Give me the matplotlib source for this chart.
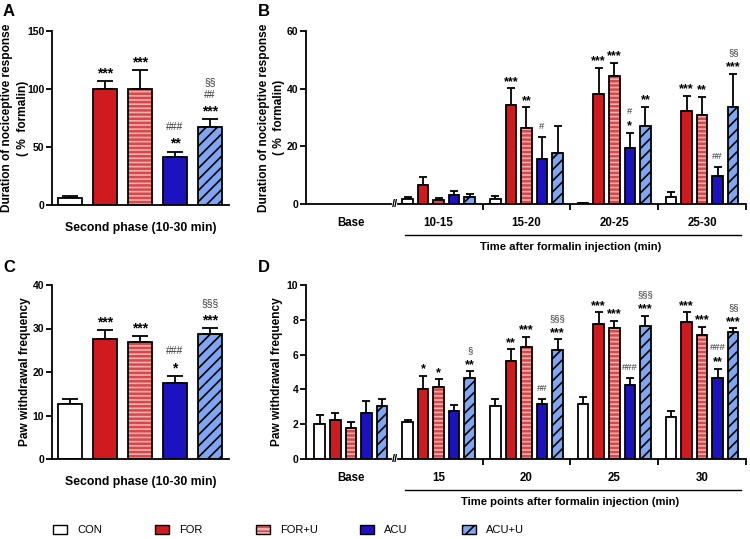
import numpy as np
import matplotlib
matplotlib.use("Agg")
import matplotlib.pyplot as plt
from matplotlib.patches import Patch
from matplotlib.legend_handler import HandlerTuple

plt.rcParams['font.family'] = ['Liberation Sans', 'DejaVu Sans']
plt.rcParams['hatch.linewidth'] = 1.2

groups = ['CON', 'FOR', 'FOR+U', 'ACU', 'ACU+U']

# A: second phase, duration (% formalin)
a_mean = [6.2, 100.3, 100.0, 41.8, 67.5]
a_sem = [1.6, 7.0, 16.0, 4.3, 6.5]
a_marks = ['', '***', '***', '###\n**', '§§\n##\n***']

# B: 5-min bins (Base has no bars)
b_bins = ['Base', '10-15', '15-20', '20-25', '25-30']
b_mean = {
    'CON':   [1.6, 1.6, 0.3, 2.3],
    'FOR':   [6.6, 34.2, 38.2, 32.3],
    'FOR+U': [1.4, 26.5, 44.3, 30.9],
    'ACU':   [3.1, 15.5, 19.4, 9.7],
    'ACU+U': [2.3, 17.8, 27.1, 33.5],
}
b_sem = {
    'CON':   [0.9, 1.3, 0.1, 1.7],
    'FOR':   [2.9, 5.9, 9.1, 5.3],
    'FOR+U': [0.6, 7.0, 4.7, 6.2],
    'ACU':   [1.5, 7.8, 5.3, 3.0],
    'ACU+U': [1.2, 9.2, 6.7, 11.6],
}
b_marks = {
    'CON':   ['', '', '', ''],
    'FOR':   ['', '***', '***', '***'],
    'FOR+U': ['', '**', '***', '**'],
    'ACU':   ['', '#', '#\n*', '##'],
    'ACU+U': ['', '', '**', '§§\n***'],
}

# C: second phase, paw withdrawal frequency
c_mean = [12.7, 27.6, 27.0, 17.5, 28.8]
c_sem = [1.2, 2.0, 1.3, 1.6, 1.4]
c_marks = ['', '***', '***', '###\n*', '§§§\n***']

# D: time points
d_bins = ['Base', '15', '20', '25', '30']
d_mean = {
    'CON':   [2.02, 2.13, 3.02, 3.14, 2.41],
    'FOR':   [2.25, 4.02, 5.66, 7.76, 7.90],
    'FOR+U': [1.77, 4.15, 6.41, 7.51, 7.15],
    'ACU':   [2.63, 2.75, 3.14, 4.28, 4.65],
    'ACU+U': [3.02, 4.65, 6.27, 7.65, 7.28],
}
d_sem = {
    'CON':   [0.50, 0.12, 0.42, 0.45, 0.36],
    'FOR':   [0.38, 0.75, 0.65, 0.67, 0.53],
    'FOR+U': [0.35, 0.43, 0.63, 0.42, 0.46],
    'ACU':   [0.70, 0.35, 0.30, 0.37, 0.53],
    'ACU+U': [0.44, 0.39, 0.61, 0.57, 0.23],
}
d_marks = {
    'CON':   ['', '', '', '', ''],
    'FOR':   ['', '*', '**', '***', '***'],
    'FOR+U': ['', '*', '***', '***', '***'],
    'ACU':   ['', '', '##', '###', '###\n**'],
    'ACU+U': ['', '§\n**', '§§§\n***', '§§§\n***', '§§\n***'],
}

# fill, hatch, hatch colour
style = {
    'CON':   ('white', '', None),
    'FOR':   ('#cf1b20', '', None),
    'FOR+U': ('#f2b0b0', '----', '#d84848'),
    'ACU':   ('#1c12bf', '', None),
    'ACU+U': ('#7ea6f2', '///', 'black'),
}

LW = 1.3


def draw_bars(ax, x, h, e, g, width, capsize):
    fc, hatch, hc = style[g]
    if hc is not None and hc != 'black':
        with plt.rc_context({'hatch.linewidth': 1.8}):
            ax.bar(x, h, width, color=fc, edgecolor=hc, hatch=hatch, linewidth=0, zorder=2)
        ax.bar(x, h, width, fill=False, edgecolor='black', linewidth=LW, zorder=2.1)
    else:
        ax.bar(x, h, width, color=fc, edgecolor='black', hatch=hatch, linewidth=LW, zorder=2)
    ax.errorbar(x, h, yerr=[np.zeros(len(h)), e], fmt='none', ecolor='black',
                elinewidth=LW, capsize=capsize, capthick=LW, zorder=1.5)


def draw_marks(ax, x, top, text, fs_star, fs_hash, first, step):
    lines = text.split('\n')[::-1]
    off = first
    for ln in lines:
        if '*' in ln:
            adj = -0.32 * fs_star * 100 / 72
            ax.annotate(ln, (x, top), xytext=(0, off + adj), textcoords='offset pixels',
                        ha='center', va='center', fontsize=fs_star, fontweight='bold',
                        color='black', annotation_clip=False)
        else:
            ax.annotate(ln, (x, top), xytext=(0, off), textcoords='offset pixels',
                        ha='center', va='center', fontsize=fs_hash, color='#333333',
                        annotation_clip=False)
        off += step


def style_y(ax, ticks):
    ax.set_ylim(ticks[0], ticks[-1])
    ax.set_yticks(ticks, [str(t) for t in ticks], fontweight='bold')
    ax.tick_params(axis='y', labelsize=7.5, width=LW, length=4, pad=1.5)
    ax.spines['left'].set_linewidth(LW)
    ax.spines['top'].set_visible(False)
    ax.spines['right'].set_visible(False)


def phase_panel(ax, mean, sem, marks, ticks):
    x = np.arange(len(groups))
    for i, g in enumerate(groups):
        draw_bars(ax, [x[i]], [mean[i]], [sem[i]], g, 0.69, 6)
        if marks[i]:
            draw_marks(ax, x[i], mean[i] + sem[i], marks[i], 10, 7.5, 12, 12.5)
    ax.set_xlim(-0.51, 4.54)
    style_y(ax, ticks)
    ax.spines['bottom'].set_linewidth(LW)
    ax.set_xticks([])
    ax.text(0.5, -23 / 174, 'Second phase (10-30 min)', transform=ax.transAxes,
            ha='center', va='center', fontsize=8.8, fontweight='bold')


def time_panel(ax, bins, mean, sem, marks, pos, ticks, xlabel):
    pitch = 0.177
    for i, g in enumerate(groups):
        xs = np.array(pos) + (i - 2) * pitch
        draw_bars(ax, xs, mean[g], sem[g], g, 0.12, 3)
        for xx, m, s, t in zip(xs, mean[g], sem[g], marks[g]):
            if t:
                draw_marks(ax, xx, m + s, t, 9, 6.8, 10.5, 10.5)
    ax.set_xlim(-0.51, 4.5)
    style_y(ax, ticks)
    ax.spines['bottom'].set_visible(False)
    # broken x axis
    ax.plot([-0.51, 0.46], [0, 0], color='black', lw=LW, clip_on=False, zorder=3)
    ax.plot([0.54, 4.5], [0, 0], color='black', lw=LW, clip_on=False, zorder=3)
    ax.text(0.5, 0, '//', ha='center', va='center', fontsize=8, fontweight='bold',
            clip_on=False)
    ax.set_xticks([1.5, 2.5, 3.5, 4.5], ['', '', '', ''])
    ax.tick_params(axis='x', which='major', length=4, width=LW, direction='out')
    ax.set_xticks(range(len(bins)), bins, minor=True, fontweight='bold')
    ax.tick_params(axis='x', which='minor', length=0, pad=9.5, labelsize=8.3)
    ax.plot([0.62, 4.44], [-31 / 173, -31 / 173], color='black', lw=1.0, clip_on=False,
            transform=ax.get_xaxis_transform())
    ax.text(2.5, -43 / 173, xlabel, transform=ax.get_xaxis_transform(),
            ha='center', va='center', fontsize=8.1, fontweight='bold')


fig = plt.figure(figsize=(7.5, 5.39), dpi=100)
axA = fig.add_axes([52 / 750, 1 - 205 / 539, 177 / 750, 174 / 539])
axB = fig.add_axes([306 / 750, 1 - 204 / 539, 440 / 750, 173 / 539])
axC = fig.add_axes([52 / 750, 1 - 459 / 539, 177 / 750, 174 / 539])
axD = fig.add_axes([306 / 750, 1 - 459 / 539, 440 / 750, 174 / 539])

phase_panel(axA, a_mean, a_sem, a_marks, [0, 50, 100, 150])
phase_panel(axC, c_mean, c_sem, c_marks, [0, 10, 20, 30, 40])
time_panel(axB, b_bins, b_mean, b_sem, b_marks, [1, 2, 3, 4], [0, 20, 40, 60],
           'Time after formalin injection (min)')
time_panel(axD, d_bins, d_mean, d_sem, d_marks, [0, 1, 2, 3, 4], [0, 2, 4, 6, 8, 10],
           'Time points after formalin injection (min)')

ylab_kw = dict(rotation=90, ha='center', va='center', fontsize=8.6, fontweight='bold',
               linespacing=1.4, multialignment='center')
axA.text(-37 / 177, 0.5, 'Duration of nociceptive response\n( %  formalin)',
         transform=axA.transAxes, **ylab_kw)
axB.text(-34.5 / 440, 0.5, 'Duration of nociceptive response\n( %  formalin)',
         transform=axB.transAxes, **ylab_kw)
axC.text(-27 / 177, 0.5, 'Paw withdrawal frequency', transform=axC.transAxes, **ylab_kw)
axD.text(-29 / 440, 0.5, 'Paw withdrawal frequency', transform=axD.transAxes, **ylab_kw)

for lab, (px, py) in zip('ABCD', [(3, 11), (258, 11), (3, 268), (258, 268)]):
    fig.text(px / 750, 1 - py / 539, lab, ha='left', va='center', fontsize=12,
             fontweight='bold')

# legend along the bottom
leg_x = [53, 155, 256, 360, 462]
for g, lx in zip(groups, leg_x):
    fc, hatch, hc = style[g]
    if hc is not None and hc != 'black':
        with plt.rc_context({'hatch.linewidth': 1.8}):
            back = Patch(facecolor=fc, edgecolor=hc, hatch=hatch, linewidth=0)
        h = (back, Patch(fill=False, edgecolor='black', linewidth=1.0))
    else:
        h = Patch(facecolor=fc, edgecolor='black', hatch=hatch, linewidth=1.0)
    fig.legend([h], [g], loc='center left', bbox_to_anchor=(lx / 750, 1 - 530 / 539),
               frameon=False, fontsize=8, handlelength=1.3, handleheight=0.9,
               handletextpad=0.9, borderpad=0, borderaxespad=0,
               handler_map={tuple: HandlerTuple(ndivide=1)})

fig.savefig('out.png', dpi=100)
